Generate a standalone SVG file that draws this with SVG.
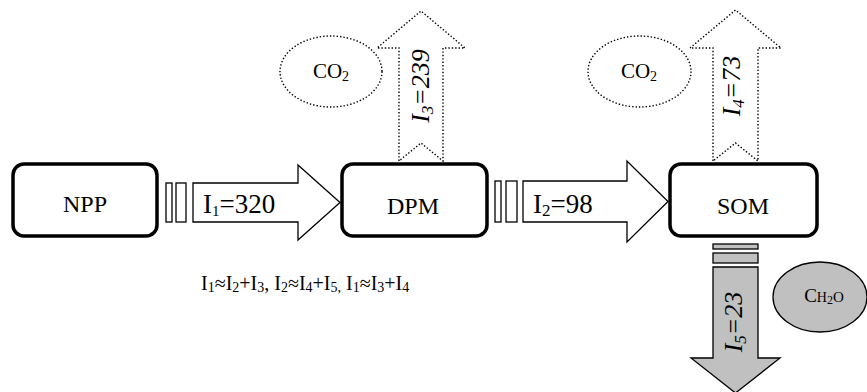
<svg xmlns="http://www.w3.org/2000/svg" width="867" height="392" viewBox="0 0 867 392">
<style>
text{font-family:"Liberation Serif","Times New Roman",serif;fill:#000}
.box{fill:#fff;stroke:#000;stroke-width:3.5}
.lbl{font-size:24px;text-anchor:middle}
.flow{fill:#fff;stroke:#000;stroke-width:1.3}
.dot{fill:#fff;stroke:#000;stroke-width:1.4;stroke-dasharray:1.4 2}
.gray{fill:#c0c0c0;stroke:#000;stroke-width:1.3}
.it{font-style:italic;font-size:26px;text-anchor:middle}
.fl{font-size:27px}
.sb{font-size:14px}
</style>
<g id="connectors">
  <g id="flow-I1">
    <rect class="flow" x="166" y="183" width="6" height="39"/>
    <rect class="flow" x="176" y="183" width="10" height="39"/>
    <polygon class="flow" points="193,183 298,183 298,165 340,202.5 298,240 298,222 193,222"/>
    <text class="fl" x="203" y="213">I<tspan font-size="15" dy="3">1</tspan><tspan dy="-3">=320</tspan></text>
  </g>
  <g id="flow-I2">
    <rect class="flow" x="495" y="181" width="6" height="41"/>
    <rect class="flow" x="506" y="181" width="11" height="41"/>
    <polygon class="flow" points="523,181 627,181 627,161 668,201.5 627,242 627,222 523,222"/>
    <text class="fl" x="533" y="213">I<tspan font-size="17" dy="3">2</tspan><tspan dy="-3">=98</tspan></text>
  </g>
  <g id="flow-I3">
    <polygon class="dot" points="399,161 399,48 377,48 421,11 465,48 443,48 443,161 421,143"/>
    <text class="it" transform="translate(429,86) rotate(-90)">I<tspan font-size="17" dy="4">3</tspan><tspan dy="-4">=239</tspan></text>
  </g>
  <g id="flow-I4">
    <polygon class="dot" points="713,161 713,48 690,48 735.5,10 781,48 758,48 758,161 735.5,143"/>
    <text class="it" transform="translate(740,86) rotate(-90)">I<tspan font-size="17" dy="4">4</tspan><tspan dy="-4">=73</tspan></text>
  </g>
  <g id="flow-I5">
    <rect class="gray" x="713" y="244" width="45" height="5"/>
    <rect class="gray" x="713" y="253" width="45" height="10"/>
    <polygon class="gray" points="713,267 758,267 758,358 780,358 735.5,393 691,358 713,358"/>
    <text class="it" transform="translate(742,322) rotate(-90)">I<tspan font-size="17" dy="4">5</tspan><tspan dy="-4">=23</tspan></text>
  </g>
</g>
<g id="NPP">
  <rect class="box" x="13" y="164" width="144" height="72" rx="11"/>
  <text class="lbl" x="85" y="212">NPP</text>
</g>
<g id="DPM">
  <rect class="box" x="342" y="164" width="145" height="72" rx="11"/>
  <text class="lbl" x="413" y="214">DPM</text>
</g>
<g id="SOM">
  <rect class="box" x="670" y="164" width="147" height="72" rx="11"/>
  <text class="lbl" x="743" y="214">SOM</text>
</g>
<g id="CO2-1">
  <ellipse class="dot" cx="331" cy="71.5" rx="51" ry="35.5"/>
  <text x="331" y="78" font-size="21" text-anchor="middle">CO<tspan font-size="14" dy="3">2</tspan></text>
</g>
<g id="CO2-2">
  <ellipse class="dot" cx="639.5" cy="71.5" rx="51.5" ry="35.5"/>
  <text x="639" y="78" font-size="21" text-anchor="middle">CO<tspan font-size="14" dy="3">2</tspan></text>
</g>
<g id="CH2O">
  <ellipse class="gray" cx="820" cy="297" rx="47" ry="35"/>
  <text x="824" y="302" font-size="19" text-anchor="middle">C<tspan font-size="14">H</tspan><tspan font-size="12" dy="2">2</tspan><tspan font-size="15" dy="-2">O</tspan></text>
</g>
<g id="formula">
  <text x="201" y="290" font-size="20">I<tspan class="sb" dy="2">1</tspan><tspan dy="-2">≈I</tspan><tspan class="sb" dy="2">2</tspan><tspan dy="-2">+I</tspan><tspan class="sb" dy="2">3</tspan><tspan dy="-2">, I</tspan><tspan class="sb" dy="2">2</tspan><tspan dy="-2">≈I</tspan><tspan class="sb" dy="2">4</tspan><tspan dy="-2">+I</tspan><tspan class="sb" dy="2">5,</tspan><tspan dy="-2"> I</tspan><tspan class="sb" dy="2">1</tspan><tspan dy="-2">≈I</tspan><tspan class="sb" dy="2">3</tspan><tspan dy="-2">+I</tspan><tspan class="sb" dy="2">4</tspan></text>
</g>
</svg>
